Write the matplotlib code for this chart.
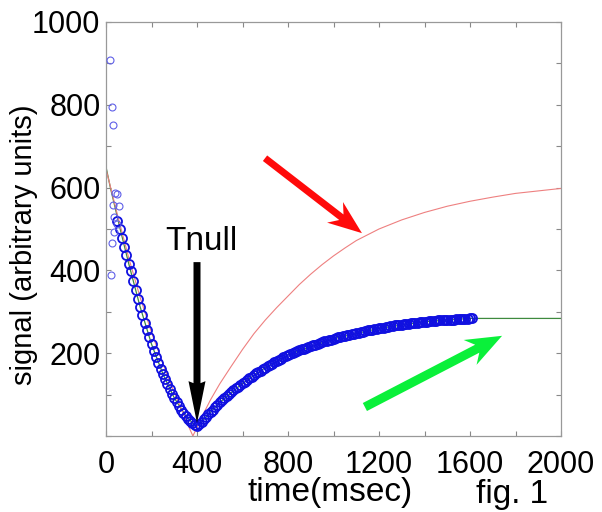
import numpy as np
import matplotlib
matplotlib.use("Agg")
import matplotlib.pyplot as plt
from matplotlib.patches import Polygon
from matplotlib.ticker import MultipleLocator, FixedLocator

plt.rcParams['font.family'] = ['Liberation Sans', 'DejaVu Sans']

# ---------------- data ----------------
# scattered early measurements
early_t = [18, 20, 25, 28, 29, 31, 35, 37, 40, 47, 49, 55]
early_v = [908, 389, 795, 466, 558, 751, 493, 530, 588, 585, 512, 555]

# dense measurements every 10 ms starting at 50 ms
blue_t0 = 50
blue_dt = 10
blue_v = [520, 500, 478, 456, 436, 416, 398, 375, 352, 332,
          312, 292, 273, 255, 238, 222, 206, 191, 177, 163,
          150, 137, 125, 113, 102, 92, 82, 73, 64, 56,
          49, 42, 36, 31, 27, 25,
          29, 34, 40, 46, 52, 58, 64, 70, 76, 81,
          86, 91, 96, 101, 106, 110, 115, 119, 123, 127,
          131, 135, 139, 143, 147, 151, 155, 158, 162, 165,
          169, 172, 175, 178, 181, 184, 187, 190, 193, 196,
          199, 201, 203, 205, 207, 209, 211, 213, 215, 217,
          219, 221, 223, 225, 227, 229, 230, 232, 233, 235,
          236, 238, 239, 241, 242, 243, 245, 246, 247, 249,
          250, 251, 252, 254, 255, 256, 257, 258, 259, 260,
          261, 262, 263, 264, 265, 266, 267, 268, 268, 269,
          270, 271, 271, 272, 273, 273, 274, 275, 275, 276,
          276, 277, 277, 278, 278, 279, 279, 280, 280, 280,
          281, 281, 281, 282, 282, 282, 283, 283, 283, 284,
          284]
blue_t = np.arange(len(blue_v)) * blue_dt + blue_t0

# red reference curve
red_t = [0, 50, 100, 150, 200, 250, 300, 340, 360, 382, 400, 420, 460, 500,
         550, 600, 650, 700, 750, 800, 850, 900, 950, 1000, 1050, 1100, 1200,
         1300, 1400, 1500, 1600, 1700, 1800, 1900, 2000]
red_v = [645, 535, 430, 335, 250, 175, 105, 55, 27, 0, 21, 45, 88, 126,
         168, 209, 247, 280, 310, 338, 366, 391, 414, 435, 454, 472, 500,
         522, 540, 555, 567, 577, 586, 592, 598]

# green fit curve
green_t = [0, 20, 40, 60, 100, 150, 200, 250, 300, 350, 390, 400, 420, 460,
           500, 600, 700, 800, 1000, 1200, 1400, 1600, 1800, 2000]
green_v = [650, 598, 552, 505, 416, 312, 222, 150, 92, 49, 26, 24, 34, 58,
           81, 127, 165, 196, 235, 260, 276, 284, 284, 284]

x_ticks = [0, 400, 800, 1200, 1600, 2000]
x_tick_labels = ['0', '400', '800', '1200', '1600', '2000']
y_ticks = [200, 400, 600, 800, 1000]
y_tick_labels = ['200', '400', '600', '800', '1000']

# annotation arrows (tail, tip) in data units
null_arrow = ((400, 420), (400, 31))
red_arrow = ((699, 671), (1125, 490))
green_arrow = ((1138, 70), (1741, 242))

# ---------------- figure ----------------
W, H = 602, 512
fig = plt.figure(figsize=(W / 100, H / 100), dpi=100)
ax = fig.add_axes([106 / W, 76 / H, 455 / W, 414 / H])

ax.plot(green_t, green_v, color='#3e8a3e', lw=0.9, zorder=2)
ax.plot(red_t, red_v, color='#ee8080', lw=0.8, zorder=2)
ax.plot(blue_t, blue_v, linestyle='none', marker='o', markersize=6.5,
        markerfacecolor='none', markeredgecolor='#1010e0', markeredgewidth=1.3,
        zorder=3)
ax.plot(early_t, early_v, linestyle='none', marker='o', markersize=5,
        markerfacecolor='none', markeredgecolor='#6060e8', markeredgewidth=0.8,
        zorder=3)

ax.set_xlim(0, 2000)
ax.set_ylim(0, 1000)

ax.xaxis.set_major_locator(FixedLocator(x_ticks))
ax.set_xticklabels(x_tick_labels)
ax.xaxis.set_minor_locator(MultipleLocator(200))
ax.yaxis.set_major_locator(FixedLocator(y_ticks))
ax.set_yticklabels(y_tick_labels)
ax.yaxis.set_minor_locator(MultipleLocator(100))

ax.tick_params(which='both', direction='in', top=True, right=True,
               length=3.6, width=0.8, color='#888888')
ax.tick_params(axis='x', which='major', labelsize=22, pad=10)
ax.tick_params(axis='y', which='major', labelsize=22, pad=4)
for s in ax.spines.values():
    s.set_color('#999999')
    s.set_linewidth(0.9)

ax.set_xlabel('time(msec)', fontsize=24)
ax.xaxis.set_label_coords((330 - 106) / 455, (436 - 477) / 414)
ax.set_ylabel('signal (arbitrary units)', fontsize=21)
ax.yaxis.set_label_coords((38 - 106) / 455, (436 - 245) / 414)

fig.text(512 / W, 1 - 503 / H, 'fig. 1', fontsize=24, ha='center', va='baseline')
ax.text(418, 449, 'Tnull', fontsize=24, ha='center', va='baseline', zorder=6)


def draw_arrow(tail, tip, shaft_w, head_w, head_len, notch, color):
    t = ax.transData.transform(tail)
    p = ax.transData.transform(tip)
    d = (p - t) / np.hypot(*(p - t))
    n = np.array([-d[1], d[0]])
    pts = [t + n * shaft_w / 2,
           p - d * head_len + n * shaft_w / 2,
           p - d * (head_len + notch) + n * head_w / 2,
           p,
           p - d * (head_len + notch) - n * head_w / 2,
           p - d * head_len - n * shaft_w / 2,
           t - n * shaft_w / 2]
    data_pts = ax.transData.inverted().transform(np.array(pts))
    ax.add_patch(Polygon(data_pts, closed=True, facecolor=color,
                         edgecolor='none', zorder=5, clip_on=False))


draw_arrow(*null_arrow, shaft_w=7, head_w=17, head_len=40, notch=2, color='black')
draw_arrow(*red_arrow, shaft_w=7, head_w=26, head_len=26, notch=8, color='#ff0a0a')
draw_arrow(*green_arrow, shaft_w=9, head_w=28, head_len=28, notch=8, color='#0af03a')

fig.savefig('out.png', dpi=100)
